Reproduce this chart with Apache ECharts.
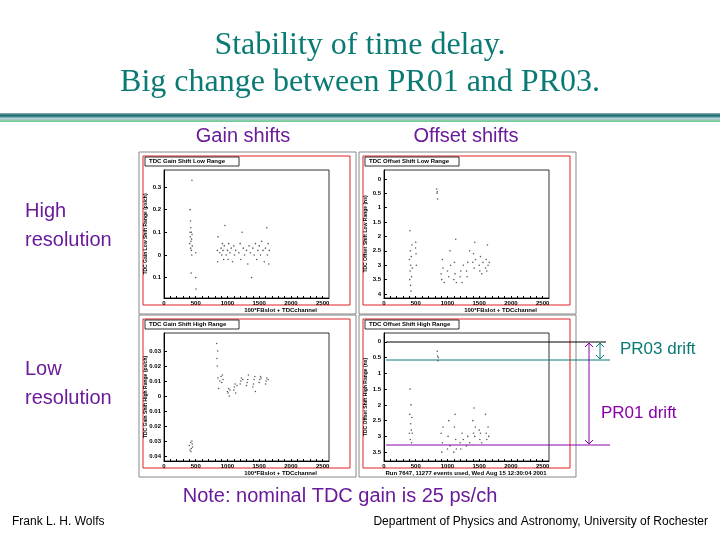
<!DOCTYPE html>
<html><head><meta charset="utf-8">
<script src="https://cdn.jsdelivr.net/npm/echarts@6/dist/echarts.min.js"></script>
<style>html,body{margin:0;background:#fff}#c{width:720px;height:540px}</style>
</head><body><div id="c"></div>
<script>
// values: [FBslot*100+channel, shift]
var gainLow = [[405,0.05],[410,0.1],[412,0.2],[415,0.08],[418,0.15],[420,0.03],[422,0.12],[425,0.06],[428,-0.08],[430,0.1],[432,0.02],[435,0.07],[438,0.0],[440,0.33],[442,0.09],[445,0.04],[500,-0.1],[505,-0.15],[500,0.01],
  [840,0.02],[845,-0.03],[850,0.08],[880,0.01],[900,0.03],[910,0.0],[920,0.05],[930,0.02],[940,-0.02],[950,0.04],[960,0.13],[980,0.0],[1000,0.02],[1010,-0.02],[1020,0.05],[1040,0.01],[1060,0.03],[1080,-0.03],[1100,0.04],[1110,0.0],[1130,0.02],
  [1180,0.01],[1200,0.05],[1210,-0.02],[1230,0.1],[1250,0.03],[1270,0.0],[1300,0.02],[1320,-0.04],[1340,0.04],[1360,0.01],[1380,-0.1],[1400,0.03],[1420,0.0],[1440,0.05],[1460,-0.02],[1480,0.02],[1500,0.04],[1520,0.0],[1540,0.06],[1560,0.02],[1580,-0.03],[1600,0.03],[1620,0.12],[1630,0.0],[1640,0.05],[1650,-0.04],[1660,0.02]];
var offLow = [[400,2.8],[405,3.5],[410,1.8],[412,3.2],[415,2.5],[418,3.7],[420,3.0],[425,3.9],[430,2.7],[435,3.4],[440,2.3],[445,3.1],[500,2.2],[505,2.6],[510,3.0],[498,2.4],
  [830,0.35],[835,0.5],[840,0.45],[845,0.7],
  [900,3.3],[910,3.5],[920,2.8],[930,3.1],[950,3.6],[1000,3.2],[1020,3.4],[1040,2.5],[1050,3.0],[1100,3.5],[1110,2.9],[1120,3.3],[1130,2.1],[1140,3.6],[1200,3.4],[1210,3.2],[1230,3.6],[1250,3.0],[1300,3.2],[1310,3.4],[1320,2.9],[1350,2.5],
  [1400,2.9],[1410,2.6],[1420,3.1],[1430,2.2],[1440,2.8],[1500,3.0],[1510,3.2],[1520,2.7],[1540,3.3],[1560,2.9],[1600,3.1],[1610,2.8],[1620,3.2],[1630,2.3],[1640,3.0],[1660,2.9]];
var gainHigh = [[400,-0.033],[410,-0.036],[420,-0.031],[430,-0.035],[440,-0.03],[450,-0.034],[425,-0.037],[445,-0.032],
  [830,0.035],[835,0.025],[840,0.02],[845,0.03],[850,0.012],[860,0.005],[880,0.01],[900,0.013],[910,0.009],[920,0.014],[930,0.011],
  [1000,0.003],[1010,0.002],[1020,0.005],[1030,0.0],[1040,0.004],[1100,0.004],[1110,0.006],[1120,0.008],[1130,0.002],[1150,0.007],
  [1200,0.008],[1210,0.01],[1220,0.012],[1240,0.011],[1300,0.007],[1310,0.009],[1320,0.011],[1330,0.014],[1400,0.006],[1410,0.008],[1420,0.011],[1430,0.013],[1440,0.003],
  [1500,0.009],[1510,0.011],[1520,0.013],[1530,0.012],[1600,0.008],[1610,0.01],[1620,0.012],[1640,0.011]];
var offHigh = [[400,2.9],[405,2.3],[410,1.5],[415,3.1],[420,2.6],[425,2.0],[430,2.8],[435,3.2],[440,2.4],[445,2.9],
  [840,0.3],[845,0.45],[850,0.6],[855,0.5],
  [900,2.9],[910,3.5],[920,3.2],[930,2.7],[1000,3.4],[1010,3.0],[1020,2.5],[1040,3.3],[1100,3.5],[1110,2.7],[1120,2.3],[1130,3.1],[1140,3.4],
  [1200,3.2],[1210,3.4],[1230,2.9],[1250,3.1],[1300,3.3],[1320,3.0],[1350,3.2],[1400,2.5],[1410,2.9],[1420,2.1],[1430,3.0],[1440,2.7],
  [1500,2.8],[1510,3.1],[1520,2.9],[1540,3.2],[1600,2.3],[1610,2.9],[1620,3.1],[1640,2.7],[1650,3.0]];

var xTicks = [0,500,1000,1500,2000,2500];
var panels = [
  {title:'TDC Gain Shift Low Range', yName:'TDC Gain Low Shift Range (ps/ch)', data:gainLow, left:164, top:170, min:-0.19, max:0.375, inv:false, ticks:[-0.1,0,0.1,0.2,0.3]},
  {title:'TDC Offset Shift Low Range', yName:'TDC Offset Shift Low Range (ns)', data:offLow, left:384, top:170, min:-0.31, max:4.14, inv:true, ticks:[0,0.5,1,1.5,2,2.5,3,3.5,4]},
  {title:'TDC Gain Shift High Range', yName:'TDC Gain Shift High Range (ps/ch)', data:gainHigh, left:164, top:333, min:-0.0433, max:0.042, inv:false, ticks:[-0.04,-0.03,-0.02,-0.01,0,0.01,0.02,0.03]},
  {title:'TDC Offset Shift High Range', yName:'TDC Offset Shift High Range (ns)', data:offHigh, left:384, top:333, min:-0.28, max:3.78, inv:true, ticks:[0,0.5,1,1.5,2,2.5,3,3.5]}
];

var grid=[], xAxis=[], yAxis=[], series=[], graphic=[];
panels.forEach(function(p,i){
  var fx=p.left-22, fy=p.top-15;
  graphic.push({type:'rect', z:-2, shape:{x:fx-3,y:fy-3,width:217,height:162}, style:{fill:'#fff',stroke:'#888',lineWidth:1}});
  graphic.push({type:'rect', z:-1, shape:{x:fx+1,y:fy+1,width:207,height:149}, style:{fill:'#fff',stroke:'#e02020',lineWidth:1}});
  graphic.push({type:'rect', shape:{x:fx+3,y:fy+2,width:94,height:9}, style:{fill:'#fff',stroke:'#000',lineWidth:0.8}});
  graphic.push({type:'text', x:fx+7, y:fy+3.5, style:{text:p.title, font:'bold 6px Liberation Sans', fill:'#000'}});
  if(i==3) graphic.push({type:'text', x:p.left+82, y:p.top+128+9, style:{text:'Run 7647, 11277 events used, Wed Aug 15 12:30:04 2001', font:'bold 6px Liberation Sans', fill:'#000', align:'center'}});
  else graphic.push({type:'text', x:p.left+153, y:p.top+128+9, style:{text:'100*FBslot + TDCchannel', font:'bold 6px Liberation Sans', fill:'#000', align:'right'}});
  graphic.push({type:'text', x:p.left-18, y:p.top+64, rotation:Math.PI/2, style:{text:p.yName, font:'bold 5px Liberation Sans', fill:'#000', align:'center', verticalAlign:'middle'}});
  grid.push({left:p.left, top:p.top, width:165, height:128, show:true, borderColor:'#000', borderWidth:0.8});
  xAxis.push({gridIndex:i, type:'value', min:0, max:2600, axisLine:{onZero:false,lineStyle:{color:'#000'}}, splitLine:{show:false},
    axisTick:{customValues:[0,100,200,300,400,500,600,700,800,900,1000,1100,1200,1300,1400,1500,1600,1700,1800,1900,2000,2100,2200,2300,2400,2500], length:2, inside:true},
    axisLabel:{customValues:xTicks, fontSize:6, fontWeight:'bold', color:'#000', margin:2, formatter:function(v){return String(v);}}});
  yAxis.push({gridIndex:i, type:'value', min:p.min, max:p.max, inverse:p.inv, axisLine:{onZero:false,lineStyle:{color:'#000'}}, splitLine:{show:false},
    axisTick:{customValues:p.ticks, length:3, inside:true},
    axisLabel:{customValues:p.ticks, fontSize:6, fontWeight:'bold', color:'#000', margin:3, formatter:function(v){return String(Math.abs(+v.toFixed(3)));}}});
  series.push({type:'scatter', xAxisIndex:i, yAxisIndex:i, data:p.data, symbolSize:1.6, itemStyle:{color:'#333'}, silent:true});
});

var teal='#0a7a74', purple='#8800aa', head='#6a1b9a';
graphic = graphic.concat([
  {type:'text', x:360, y:30, style:{text:'Stability of time delay.', font:'32px Liberation Serif', fill:teal, align:'center'}},
  {type:'text', x:360, y:67, style:{text:'Big change between PR01 and PR03.', font:'32px Liberation Serif', fill:teal, align:'center'}},
  {type:'rect', shape:{x:0,y:113,width:720,height:9}, style:{fill:new echarts.graphic.LinearGradient(0,0,0,1,[{offset:0,color:'#9ab'},{offset:0.3,color:'#0a6b66'},{offset:0.6,color:'#bcd'},{offset:1,color:'#6c8'}])}},
  {type:'text', x:243, y:126, style:{text:'Gain shifts', font:'20px Liberation Sans', fill:head, align:'center'}},
  {type:'text', x:466, y:126, style:{text:'Offset shifts', font:'20px Liberation Sans', fill:head, align:'center'}},
  {type:'text', x:25, y:197, style:{text:'High\nresolution', font:'20px Liberation Sans', fill:head, lineHeight:29}},
  {type:'text', x:25, y:355, style:{text:'Low\nresolution', font:'20px Liberation Sans', fill:head, lineHeight:29}},
  {type:'text', x:340, y:486, style:{text:'Note: nominal TDC gain is 25 ps/ch', font:'20px Liberation Sans', fill:head, align:'center'}},
  {type:'text', x:12, y:516, style:{text:'Frank L. H. Wolfs', font:'12px Liberation Sans', fill:'#000'}},
  {type:'text', x:708, y:516, style:{text:'Department of Physics and Astronomy, University of Rochester', font:'12px Liberation Sans', fill:'#000', align:'right'}},
  {type:'line', shape:{x1:386,y1:342,x2:606,y2:342}, style:{stroke:'#000',lineWidth:1}},
  {type:'line', shape:{x1:386,y1:360,x2:610,y2:360}, style:{stroke:teal,lineWidth:1}},
  {type:'line', shape:{x1:386,y1:445,x2:610,y2:445}, style:{stroke:purple,lineWidth:1}},
  {type:'line', shape:{x1:600,y1:343,x2:600,y2:359}, style:{stroke:teal,lineWidth:1}},
  {type:'polyline', shape:{points:[[596,347],[600,343],[604,347]]}, style:{stroke:teal,fill:null}},
  {type:'polyline', shape:{points:[[596,355],[600,359],[604,355]]}, style:{stroke:teal,fill:null}},
  {type:'line', shape:{x1:589,y1:343,x2:589,y2:444}, style:{stroke:purple,lineWidth:1}},
  {type:'polyline', shape:{points:[[585,347],[589,343],[593,347]]}, style:{stroke:purple,fill:null}},
  {type:'polyline', shape:{points:[[585,440],[589,444],[593,440]]}, style:{stroke:purple,fill:null}},
  {type:'text', x:620, y:341, style:{text:'PR03 drift', font:'17px Liberation Sans', fill:teal}},
  {type:'text', x:601, y:405, style:{text:'PR01 drift', font:'17px Liberation Sans', fill:purple}}
]);

var chart = echarts.init(document.getElementById('c'));
chart.setOption({animation:false, grid:grid, xAxis:xAxis, yAxis:yAxis, series:series, graphic:graphic});
</script></body></html>
